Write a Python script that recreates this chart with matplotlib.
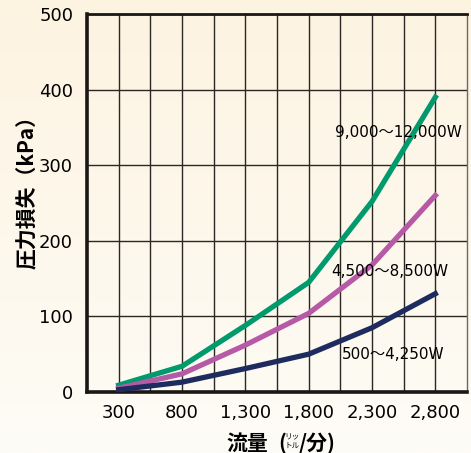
import numpy as np
import matplotlib.pyplot as plt
from matplotlib.colors import LinearSegmentedColormap

# 流量 (L/min) and 圧力損失 (kPa)
flow = [300, 800, 1300, 1800, 2300, 2800]
high = [9, 34, 88, 145, 252, 390]     # 9,000～12,000W
mid = [5, 24, 62, 104, 168, 260]      # 4,500～8,500W
low = [3, 13, 31, 50, 85, 130]        # 500～4,250W

xticks = [300, 800, 1300, 1800, 2300, 2800]
xtick_labels = ["300", "800", "1,300", "1,800", "2,300", "2,800"]
yticks = [0, 100, 200, 300, 400, 500]

num_font = dict(family=["DejaVu Sans", "Noto Sans CJK JP"])
jp_font = ["Noto Sans CJK JP", "DejaVu Sans"]

fig = plt.figure(figsize=(4.71, 4.53), dpi=100)

# background gradient
bg = fig.add_axes([0, 0, 1, 1], zorder=-10)
cmap = LinearSegmentedColormap.from_list("bg", ["#fdf3e1", "#fefcf6"])
bg.imshow(np.linspace(0, 1, 256).reshape(-1, 1), aspect="auto", cmap=cmap,
          extent=[0, 1, 0, 1])
bg.axis("off")

ax = fig.add_axes([0.1847, 0.1347, 0.8068, 0.8343])
ax.set_facecolor("none")

ax.plot(flow, high, color="#009a6c", lw=3.8, zorder=3)
ax.plot(flow, mid, color="#b65aa6", lw=3.8, zorder=3)
ax.plot(flow, low, color="#1e2b5e", lw=3.8, zorder=3)

ax.set_xlim(50, 3050)
ax.set_ylim(0, 500)
ax.set_xticks(xticks)
ax.set_xticks(np.arange(550, 3050, 500), minor=True)
ax.set_yticks(yticks)
ax.set_xticklabels(xtick_labels, fontsize=13, **num_font)
ax.set_yticklabels([str(v) for v in yticks], fontsize=13, **num_font)
ax.tick_params(which="both", length=0)
ax.tick_params(axis="x", pad=9)
ax.tick_params(axis="y", pad=10)

ax.grid(True, which="both", color="#2b2723", lw=1.0)

for side in ["left", "bottom"]:
    ax.spines[side].set_linewidth(2.6)
ax.spines["top"].set_linewidth(2.0)
ax.spines["right"].set_linewidth(1.0)
ax.spines["right"].set_color("#6e6860")
for side in ax.spines:
    if side != "right":
        ax.spines[side].set_color("#1a1714")

ax.text(2010, 343, "9,000～12,000W", fontsize=11,
        va="center", ha="left", zorder=4, **num_font)
ax.text(1980, 159, "4,500～8,500W", fontsize=11,
        va="center", ha="left", zorder=4, **num_font)
ax.text(2065, 49, "500～4,250W", fontsize=11,
        va="center", ha="left", zorder=4, **num_font)

# axis labels
fig.text(27 / 471, 1 - 187 / 453, "圧力損失（kPa）", family=jp_font, fontsize=15,
         weight="bold", rotation=90, ha="center", va="center")
fig.text(226 / 471, 1 - 443 / 453, "流量", family=jp_font, fontsize=15,
         weight="bold", ha="left", va="center")
fig.text(278 / 471, 1 - 443 / 453, "(", family=jp_font, fontsize=15,
         weight="bold", ha="left", va="center")
fig.text(292 / 471, 1 - 437 / 453, "リッ", family=jp_font, fontsize=5.5,
         ha="center", va="center")
fig.text(292 / 471, 1 - 446 / 453, "トル", family=jp_font, fontsize=5.5,
         ha="center", va="center")
fig.text(299 / 471, 1 - 443 / 453, "/分)", family=jp_font, fontsize=15,
         weight="bold", ha="left", va="center")

fig.savefig("out.png", dpi=100)
